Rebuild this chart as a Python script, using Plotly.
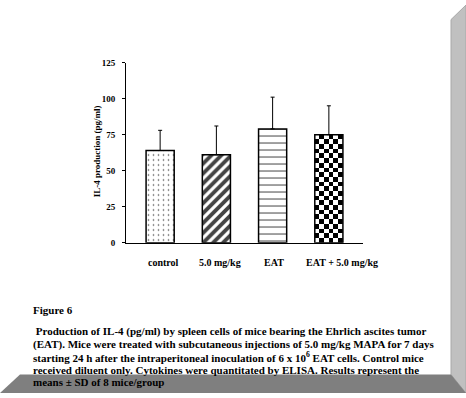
import numpy as np
import plotly.graph_objects as go

# ---- data ----
categories = ["control", "5.0 mg/kg", "EAT", "EAT + 5.0 mg/kg"]
il4_values = [64, 61, 79, 75]
il4_sd = [14, 20, 22, 20]
y_ticks = [0, 25, 50, 75, 100, 125]
y_title = "IL-4 production (pg/ml)"
caption_lines = [
    "&nbsp;Production of IL-4 (pg/ml) by spleen cells of mice bearing the Ehrlich ascites tumor",
    "(EAT). Mice were treated with subcutaneous injections of 5.0 mg/kg MAPA for 7 days",
    "starting 24 h after the intraperitoneal inoculation of 6 x 10<sup>6</sup> EAT cells. Control mice",
    "received diluent only. Cytokines were quantitated by ELISA. Results represent the",
    "means ± SD of 8 mice/group",
]
figure_label = "Figure 6"

# ---- style ----
W, H = 466, 398
FONT = "Liberation Serif"
px = lambda x: x / W
py = lambda y: 1 - y / H
xpos = list(range(len(categories)))
bar_w = 0.5

fig = go.Figure()

# checkerboard texture for the last bar (drawn under its outline)
ci = len(categories) - 1
ncol, nrow = 6, 23
xe = np.linspace(xpos[ci] - bar_w / 2, xpos[ci] + bar_w / 2, ncol + 1)
ye = np.linspace(0, il4_values[ci], nrow + 1)
zz = (np.add.outer(np.arange(nrow), np.arange(ncol)) % 2).astype(float)
fig.add_trace(go.Heatmap(x=xe, y=ye, z=zz, colorscale=[[0, "white"], [1, "black"]],
                         showscale=False, hoverinfo="skip", zsmooth=False))

fig.add_trace(go.Bar(
    x=xpos, y=il4_values, width=bar_w,
    marker=dict(
        color=["white", "white", "white", "rgba(0,0,0,0)"],
        line=dict(color="black", width=1.5),
        pattern=dict(shape=[".", "/", "-", ""], size=[5, 7, 7, 6],
                     solidity=[0.08, 0.55, 0.15, 0.1], fgcolor="black",
                     fgopacity=1, fillmode="overlay"),
    ),
    error_y=dict(type="data", array=il4_sd, arrayminus=[0] * len(il4_sd),
                 symmetric=False, color="black", thickness=1, width=2),
    hoverinfo="skip",
))

xshifts = [3, 4, 1, 13]
for i, c in enumerate(categories):
    fig.add_annotation(x=xpos[i], y=0, xref="x", yref="y", text=f"<b>{c}</b>",
                       showarrow=False, yshift=-20, xshift=xshifts[i],
                       font=dict(family=FONT, size=10, color="black"))

fig.add_annotation(x=px(90), y=py(150), xref="paper", yref="paper",
                   text=f"<b>{y_title}</b>", textangle=-90, showarrow=False,
                   font=dict(family=FONT, size=9, color="black"))

fig.add_annotation(x=px(31), y=py(321), xref="paper", yref="paper", xanchor="left",
                   text=f"<b>{figure_label}</b>", showarrow=False,
                   font=dict(family=FONT, size=11, color="black"))
line_y = [344, 357, 370, 383, 395]
for t, yy in zip(caption_lines, line_y):
    fig.add_annotation(x=px(31), y=py(yy), xref="paper", yref="paper", xanchor="left",
                       text=f"<b>{t}</b>", showarrow=False,
                       font=dict(family=FONT, size=11, color="black"))

# page shadow frame
def path(pts):
    return "M " + " L ".join(f"{px(a)},{py(b)}" for a, b in pts) + " Z"

fig.add_shape(type="path", xref="paper", yref="paper", layer="below",
              path=path([(451, 15), (466, 0), (466, 398), (451, 379)]),
              fillcolor="#c0c0c0", line=dict(color="#a8a8a8", width=1))
fig.add_shape(type="path", xref="paper", yref="paper", layer="below",
              path=path([(20, 379), (451, 379), (466, 398), (0, 398)]),
              fillcolor="#7f7f7f", line=dict(width=0))

fig.update_layout(
    width=W, height=H, margin=dict(l=0, r=0, t=0, b=0),
    paper_bgcolor="white", plot_bgcolor="white", showlegend=False,
    xaxis=dict(domain=[px(126), px(363)], range=[-0.607, 3.607], showline=True,
               linecolor="black", linewidth=1, showticklabels=False, ticks="",
               showgrid=False, zeroline=False),
    yaxis=dict(domain=[py(244), py(59)], range=[0, 125], tickvals=y_ticks,
               ticks="outside", ticklen=3, tickcolor="black", showline=True,
               linecolor="black", linewidth=1, showgrid=False, zeroline=False,
               ticklabelstandoff=5,
               tickfont=dict(family=FONT, size=9, color="black", weight="bold")),
)

fig.write_html("out.html", config={"displayModeBar": False},
               post_script="document.body.style.margin='0';document.body.style.overflow='hidden';")
